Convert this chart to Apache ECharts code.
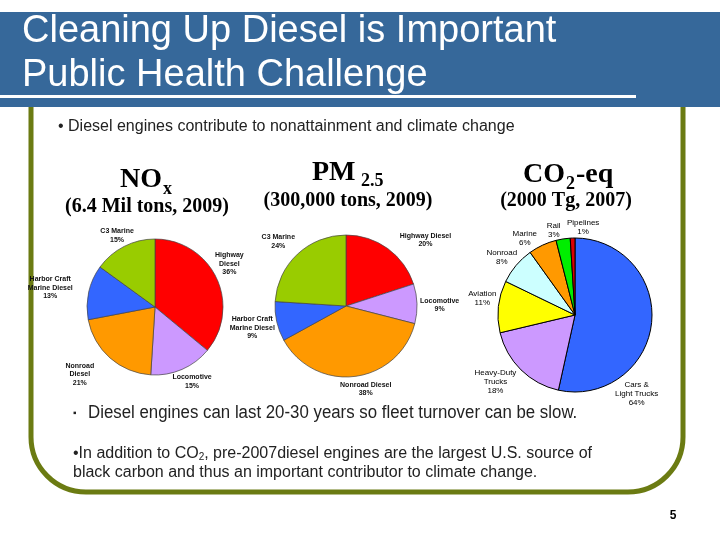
<!DOCTYPE html>
<html><head><meta charset="utf-8">
<script src="https://cdn.jsdelivr.net/npm/echarts@6/dist/echarts.min.js"></script>
<style>html,body{margin:0;padding:0;background:#fff}#c{width:720px;height:540px}</style>
</head><body><div id="c"></div>
<script>
// ---- data ----
var noxCategories = ['Highway\nDiesel', 'Locomotive', 'Nonroad\nDiesel', 'Harbor Craft\nMarine Diesel', 'C3 Marine'];
var noxValues = [36, 15, 21, 13, 15];
var pmCategories = ['Highway Diesel', 'Locomotive', 'Nonroad Diesel', 'Harbor Craft\nMarine Diesel', 'C3 Marine'];
var pmValues = [20, 9, 38, 9, 24];
var co2Categories = ['Cars &\nLight Trucks', 'Heavy-Duty\nTrucks', 'Aviation', 'Nonroad', 'Marine', 'Rail', 'Pipelines'];
var co2Values = [54, 18, 11, 8, 6, 3, 1];
var co2PrintedPct = ['64%', '18%', '11%', '8%', '6%', '3%', '1%'];

// ---- styles ----
var dieselColors = ['#ff0000', '#cc99ff', '#ff9900', '#3366ff', '#99cc00'];
var co2Colors = ['#3366ff', '#cc99ff', '#ffff00', '#ccffff', '#ff9900', '#00ee00', '#dd0000'];

// label placement tweaks (pixels), matching the hand-placed labels of the slide
var noxNudge = { 0: [-7, -5], 1: [4, -2], 2: [-15, -1], 3: [-10, 2], 4: [0, 3] };
var pmNudge = { 0: [28, 5], 1: [-3, 2], 2: [9, -2], 3: [4, 0], 4: [-7, 0] };
var co2Nudge = { 1: [-8, -6], 2: [4, -6], 3: [1, 5], 4: [-11, 8], 5: [-7, 6], 6: [11, 4] };

function makeLayout(cx, cy, r, values, gap, angleOverride, nudge) {
  var total = values.reduce(function (a, b) { return a + b; }, 0);
  return function (p) {
    var i = p.dataIndex, cum = 0;
    for (var k = 0; k < i; k++) cum += values[k];
    var mid = (cum + values[i] / 2) / total * 360;
    if (angleOverride && angleOverride[i] != null) mid = angleOverride[i];
    var a = mid * Math.PI / 180, ux = Math.sin(a), uy = -Math.cos(a);
    var w = p.labelRect.width, h = p.labelRect.height;
    var ex = Math.abs(ux) > 1e-6 ? (w / 2) / Math.abs(ux) : 1e9;
    var ey = Math.abs(uy) > 1e-6 ? (h / 2) / Math.abs(uy) : 1e9;
    var d = r + gap + Math.min(ex, ey);
    var n = (nudge && nudge[i]) || [0, 0];
    return { x: cx + ux * d + n[0], y: cy + uy * d + n[1], align: 'center', verticalAlign: 'middle' };
  };
}

function pieSeries(cats, vals, colors, cx, cy, r, labelStyle, border, fmt, layout) {
  return {
    type: 'pie', center: [cx, cy], radius: r, startAngle: 90, clockwise: true,
    silent: true, animation: false, avoidLabelOverlap: false,
    data: cats.map(function (c, i) { return { name: c, value: vals[i], itemStyle: { color: colors[i] } }; }),
    itemStyle: border,
    label: Object.assign({ show: true, position: 'outside', formatter: fmt }, labelStyle),
    labelLine: { show: false, length: 4, length2: 0 },
    labelLayout: layout
  };
}

var dieselLabel = { fontFamily: 'Liberation Sans', fontWeight: 'bold', fontSize: 7, lineHeight: 8.5, color: '#111' };
var co2Label = { fontFamily: 'Liberation Sans', fontSize: 8, lineHeight: 9, color: '#000' };
var fmtPct = function (p) { return p.name + '\n' + p.value + '%'; };
var fmtCo2 = function (p) { return p.name + '\n' + co2PrintedPct[p.dataIndex]; };

var chart = echarts.init(document.getElementById('c'), null, { renderer: 'canvas' });

var serif = 'Liberation Serif';
chart.setOption({
  animation: false,
  backgroundColor: '#ffffff',
  series: [
    pieSeries(noxCategories, noxValues, dieselColors, 155, 307, 68, dieselLabel,
      { borderColor: '#444', borderWidth: 0.7 }, fmtPct, makeLayout(155, 307, 68, noxValues, 6, null, noxNudge)),
    pieSeries(pmCategories, pmValues, dieselColors, 346, 306, 71, dieselLabel,
      { borderColor: '#444', borderWidth: 0.7 }, fmtPct, makeLayout(346, 306, 71, pmValues, 6, null, pmNudge)),
    pieSeries(co2Categories, co2Values, co2Colors, 575, 315, 77, co2Label,
      { borderColor: '#000', borderWidth: 1 }, fmtCo2, makeLayout(575, 315, 77, co2Values, 6, { 0: 142 }, co2Nudge))
  ],
  graphic: [
    // olive rounded frame
    { type: 'rect', z: 1, shape: { x: 31, y: 40, width: 652, height: 452, r: 55 },
      style: { fill: 'none', stroke: '#6b7b12', lineWidth: 5 } },
    // header bar
    { type: 'rect', z: 5, shape: { x: 0, y: 12, width: 720, height: 95 }, style: { fill: '#36689a' } },
    { type: 'text', z: 6, x: 22, y: 32, style: { text: 'Cleaning Up Diesel is Important', fill: '#fff',
      font: '38px "Liberation Sans"', verticalAlign: 'middle' } },
    { type: 'text', z: 6, x: 22, y: 76, style: { text: 'Public Health Challenge', fill: '#fff',
      font: '38px "Liberation Sans"', verticalAlign: 'middle' } },
    { type: 'rect', z: 6, shape: { x: 0, y: 95, width: 636, height: 3 }, style: { fill: '#fff' } },
    // bullets
    { type: 'text', z: 6, x: 58, y: 127, style: { text: '\u2022 Diesel engines contribute to nonattainment and climate change',
      fill: '#222', font: '16px "Liberation Sans"', verticalAlign: 'middle' } },
    { type: 'text', z: 6, x: 73, y: 413, style: { text: '\u25aa', fill: '#222', font: '10px "Liberation Sans"', verticalAlign: 'middle' } },
    { type: 'text', z: 6, x: 88, y: 413, scaleX: 0.935, style: { text: 'Diesel engines can last 20-30 years so fleet turnover can be slow.',
      fill: '#222', font: '18px "Liberation Sans"', verticalAlign: 'middle' } },
    { type: 'text', z: 6, x: 73, y: 454, style: {
      text: '{t|\u2022In addition to CO}{s|2}{t|, pre-2007diesel engines are the largest U.S. source of}',
      verticalAlign: 'middle', rich: {
        t: { fill: '#222', font: '16px "Liberation Sans"' },
        s: { fill: '#222', font: '10px "Liberation Sans"', verticalAlign: 'bottom', padding: [6, 0, 0, 0] } } } },
    { type: 'text', z: 6, x: 73, y: 473, style: { text: 'black carbon and thus an important contributor to climate change.',
      fill: '#222', font: '16px "Liberation Sans"', verticalAlign: 'middle' } },
    // page number
    { type: 'text', z: 6, x: 673, y: 516, style: { text: '5', fill: '#000', font: 'bold 12px "Liberation Sans"',
      align: 'center', verticalAlign: 'middle' } },
    // pie titles
    { type: 'text', z: 6, x: 120, y: 180, style: { text: 'NO', fill: '#000', font: 'bold 28px "' + serif + '"', verticalAlign: 'middle' } },
    { type: 'text', z: 6, x: 163, y: 189, style: { text: 'x', fill: '#000', font: 'bold 18px "' + serif + '"', verticalAlign: 'middle' } },
    { type: 'text', z: 6, x: 147, y: 207, style: { text: '(6.4 Mil tons, 2009)', fill: '#000', font: 'bold 20px "' + serif + '"', align: 'center', verticalAlign: 'middle' } },
    { type: 'text', z: 6, x: 312, y: 173, style: { text: 'PM', fill: '#000', font: 'bold 28px "' + serif + '"', verticalAlign: 'middle' } },
    { type: 'text', z: 6, x: 361, y: 181, style: { text: '2.5', fill: '#000', font: 'bold 18px "' + serif + '"', verticalAlign: 'middle' } },
    { type: 'text', z: 6, x: 348, y: 201, style: { text: '(300,000 tons, 2009)', fill: '#000', font: 'bold 20px "' + serif + '"', align: 'center', verticalAlign: 'middle' } },
    { type: 'text', z: 6, x: 523, y: 175, style: { text: 'CO', fill: '#000', font: 'bold 28px "' + serif + '"', verticalAlign: 'middle' } },
    { type: 'text', z: 6, x: 566, y: 184, style: { text: '2', fill: '#000', font: 'bold 18px "' + serif + '"', verticalAlign: 'middle' } },
    { type: 'text', z: 6, x: 576, y: 175, style: { text: '-eq', fill: '#000', font: 'bold 28px "' + serif + '"', verticalAlign: 'middle' } },
    { type: 'text', z: 6, x: 566, y: 201, style: { text: '(2000 Tg, 2007)', fill: '#000', font: 'bold 20px "' + serif + '"', align: 'center', verticalAlign: 'middle' } }
  ]
});
</script></body></html>
